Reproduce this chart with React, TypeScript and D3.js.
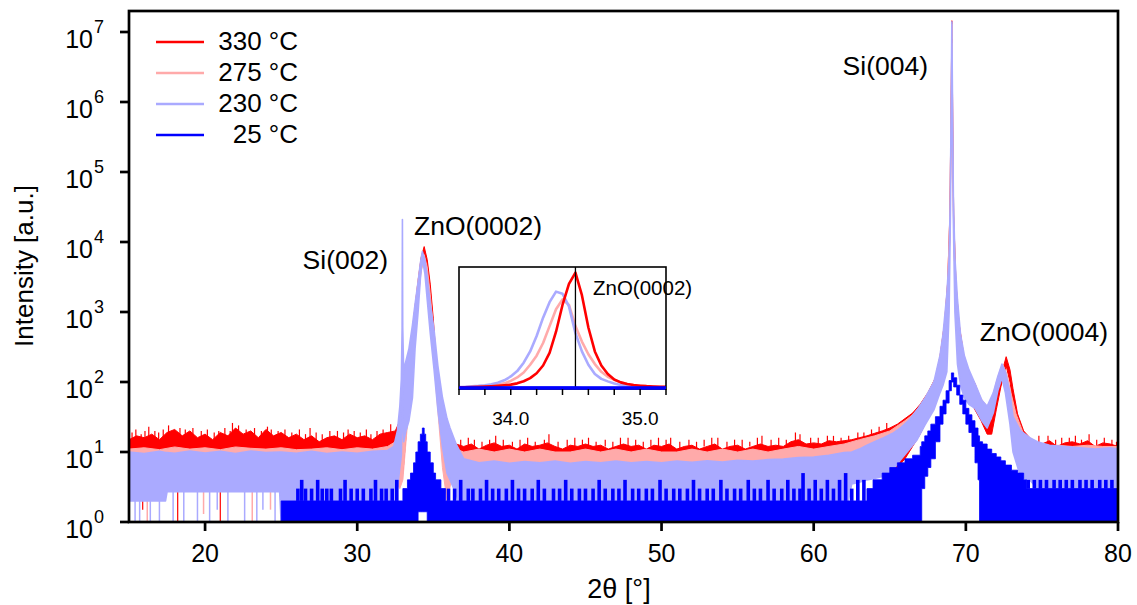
import React from "react";
import * as d3 from "d3";

type Pt = [number, number, number]; // [2theta, low envelope, high envelope]

// ---------- main plot data (counts, noise envelope) ----------
const S330: Pt[] = [
  [15.0, 8, 15], [15.5, 9, 17], [16.0, 8, 16], [16.5, 9, 18], [17.0, 8, 15], [17.5, 9, 19], [18.0, 10, 21], [18.5, 9, 17],
  [19.0, 9, 20], [19.5, 8, 16], [20.0, 9, 18], [20.5, 8, 15], [21.0, 9, 19], [21.5, 9, 17], [22.0, 10, 22], [22.5, 9, 18],
  [23.0, 9, 20], [23.5, 8, 16], [24.0, 9, 21], [24.5, 9, 17], [25.0, 9, 19], [25.5, 8, 16], [26.0, 9, 18], [26.5, 8, 15],
  [27.0, 9, 17], [27.5, 8, 14], [28.0, 8, 16], [28.5, 9, 17], [29.0, 8, 15], [29.5, 9, 18], [30.0, 8, 16], [30.5, 9, 17],
  [31.0, 8, 15], [31.5, 9, 18], [32.0, 9, 19],
  [32.5, 6, 20], [32.8, 4, 28], [33.0, 5, 50], [33.3, 30, 150], [33.6, 150, 500], [33.8, 500, 1200], [34.0, 1500, 2800],
  [34.2, 4200, 6000], [34.4, 7000, 8600], [34.6, 4000, 5600], [34.8, 1500, 2500], [35.0, 450, 800], [35.16, 140, 260],
  [35.37, 35, 65], [35.6, 10, 28], [35.9, 3, 17], [36.2, 5, 14], [36.5, 7, 13],
  [37.0, 6, 12], [37.5, 7, 13], [38.0, 6, 11], [38.5, 6, 12.5], [39.0, 7, 13.5], [39.5, 6, 12], [40.0, 6, 12.5], [40.5, 6, 11],
  [41.0, 7, 13], [41.5, 6, 12], [42.0, 6, 12.5], [42.5, 7, 13.5], [43.0, 6, 12], [43.5, 6, 11], [44.0, 6, 12.5], [44.5, 6, 12],
  [45.0, 7, 13], [45.5, 6, 12], [46.0, 6, 12.5], [46.5, 6, 11], [47.0, 6, 12], [47.5, 7, 13], [48.0, 6, 12], [48.5, 6, 12.5],
  [49.0, 6, 11], [49.5, 6, 12.5], [50.0, 6, 12], [50.5, 7, 13], [51.0, 6, 11], [51.5, 6, 12], [52.0, 6, 12.5], [52.5, 6, 11],
  [53.0, 6, 12], [53.5, 7, 13], [54.0, 6, 11], [54.5, 6, 12], [55.0, 6, 12.5], [55.5, 6, 11], [56.0, 6, 12], [56.5, 7, 13],
  [57.0, 6, 12], [57.5, 6, 12.5], [58.0, 6, 12], [58.5, 7, 14], [59.0, 7, 15], [59.5, 6, 13], [60.0, 7, 13.5], [60.5, 6, 13],
  [61.0, 7, 14.5], [61.5, 7, 14], [62.0, 7, 14.5], [62.5, 8, 15], [63.0, 8, 16], [63.5, 9, 17], [64.0, 9, 18.5], [64.5, 10, 20],
  [65.0, 5, 22], [65.5, 6, 25], [66.0, 8, 30], [66.5, 12, 36], [67.0, 18, 48], [67.5, 30, 70], [68.0, 55, 115],
  [68.3, 110, 230], [68.6, 300, 700], [68.8, 1200, 2600], [68.95, 12000, 25000], [69.03, 300000, 1000000],
  [69.08, 8000000, 14500000], [69.13, 300000, 1000000], [69.2, 12000, 25000], [69.35, 1200, 2600], [69.55, 300, 700],
  [69.85, 110, 250], [70.2, 60, 140], [70.6, 40, 95], [71.0, 28, 55], [71.4, 18, 35], [71.7, 18, 28], [72.0, 40, 60],
  [72.3, 85, 120], [72.65, 170, 230], [72.9, 100, 150], [73.1, 50, 80], [73.4, 22, 35], [73.8, 10, 20], [74.2, 7, 16],
  [74.5, 7, 14], [75.0, 6, 13], [75.5, 7, 14.5], [76.0, 6, 12], [76.5, 6, 13.5], [77.0, 7, 14], [77.5, 6, 13], [78.0, 7, 14.5],
  [78.5, 6, 12], [79.0, 6, 13.5], [79.5, 6, 13], [80.0, 6, 12],
];

const S275: Pt[] = [
  [15, 6, 11], [16, 6, 11.5], [17, 6, 10.8], [18, 6, 11.8], [19, 6, 11], [20, 6, 11.5], [21, 6, 10.8], [22, 6, 11.8],
  [23, 6, 11.3], [24, 6, 11], [25, 6, 11.5], [26, 6, 10.8], [27, 6, 11], [28, 6, 11.5], [29, 6, 10.8], [30, 6, 11.5],
  [31, 6, 11], [32, 6, 12],
  [32.5, 4, 14], [32.8, 3, 22], [33.0, 4, 40], [33.3, 25, 130], [33.6, 130, 450], [33.8, 450, 1200], [34.0, 1400, 2900],
  [34.2, 3800, 5600], [34.4, 5600, 6600], [34.6, 3000, 4400], [34.8, 1000, 1800], [35.0, 300, 600], [35.16, 90, 180],
  [35.37, 25, 50], [35.6, 6, 22], [35.9, 2, 14], [36.2, 4, 12], [36.5, 6, 11],
  [37, 5, 10], [38, 5, 11], [39, 5, 10], [40, 5, 11], [41, 5, 10], [42, 5, 11], [43, 5, 10], [44, 5, 10], [45, 5, 11],
  [46, 5, 10], [47, 5, 11], [48, 5, 10], [49, 5, 11], [50, 5, 10], [51, 5, 10], [52, 5, 11], [53, 5, 10], [54, 5, 11],
  [55, 5, 10], [56, 5, 11], [57, 5, 10], [58, 5, 11], [59, 5, 12], [60, 6, 11], [61, 6, 12], [62, 6, 13],
  [63.0, 7, 15], [64.0, 8, 17], [65.0, 8, 20], [66.0, 10, 28], [66.5, 13, 34], [67.0, 18, 46], [67.5, 30, 70],
  [68.0, 55, 115], [68.3, 110, 230], [68.6, 300, 680], [68.8, 1200, 2500], [68.95, 12000, 24000],
  [69.03, 300000, 1000000], [69.08, 7000000, 13000000], [69.13, 300000, 1000000], [69.2, 12000, 24000],
  [69.35, 1200, 2500], [69.55, 300, 680], [69.85, 110, 240], [70.2, 60, 140], [70.6, 45, 95], [71.0, 32, 58],
  [71.4, 28, 45], [71.7, 35, 55], [72.0, 65, 100], [72.3, 110, 160], [72.45, 130, 175], [72.7, 90, 130], [73.0, 40, 65],
  [73.3, 20, 35], [73.8, 9, 18], [74.5, 6, 13], [75, 6, 12], [76, 6, 12.5], [77, 6, 12], [78, 6, 12.5], [79, 6, 12], [80, 6, 12],
];

const S230: Pt[] = [
  [15, 2, 10], [16, 2, 9.5], [17, 2, 10.2], [17.4, 2, 9.8], [17.5, 2.7, 9.8], [18, 2.7, 9.6], [19, 2.7, 10.3], [20, 2.7, 9.7],
  [21, 2.7, 10.2], [22, 2.7, 9.5], [23, 2.7, 10.3], [24, 2.7, 9.8], [24.9, 2.7, 10], [25, 1, 10], [26, 1, 9.6],
  [27, 1, 10.2], [28, 1, 9.5], [29, 1, 10], [30, 1, 9.6], [31, 1, 10.2], [32.0, 1, 10.5],
  [32.4, 1.5, 12], [32.64, 3, 20], [32.8, 6, 45], [32.9, 9, 110], [32.95, 40, 600], [32.97, 5000, 21000],
  [32.99, 40, 600], [33.05, 14, 150], [33.2, 20, 200], [33.4, 28, 300], [33.63, 60, 650], [33.8, 300, 1300],
  [34.0, 1000, 2700], [34.15, 3000, 5000], [34.28, 5800, 7300], [34.45, 3500, 5500], [34.6, 1500, 3100],
  [34.8, 500, 1300], [35.05, 150, 550], [35.3, 40, 170], [35.6, 12, 60], [35.9, 5, 30], [36.1, 4, 22], [36.5, 2.5, 13],
  [37, 1, 8], [38, 1, 7], [39, 1, 7.4], [40, 1, 6.9], [41, 1, 7.3], [42, 1, 7], [43, 1, 7.4], [44, 1, 6.9], [45, 1, 7.3],
  [46, 1, 7], [47, 1, 7.4], [48, 1, 7], [49, 1, 7.3], [50, 1, 7], [51, 1, 7.4], [52, 1, 7.1], [53, 1, 7.5], [54, 1, 7.2],
  [55, 1, 7.6], [56, 1, 7.4], [57, 1, 7.8], [58, 1, 7.9], [59, 1, 8.3], [60, 1, 8.5], [61, 1, 9], [62, 1, 9.8],
  [62.5, 3.5, 10], [63.0, 3.7, 11], [63.5, 4, 12.5], [64.0, 4.2, 14], [64.6, 4.5, 16], [65.2, 5.5, 18.5], [65.7, 7.7, 22],
  [66.3, 11, 29], [66.8, 15, 40], [67.3, 24, 58], [67.9, 40, 100], [68.3, 70, 240], [68.5, 90, 480], [68.75, 140, 1800],
  [68.9, 1000, 6000], [68.98, 20000, 45000], [69.04, 500000, 1200000], [69.08, 9000000, 14000000],
  [69.12, 500000, 1200000], [69.18, 20000, 45000], [69.28, 1000, 6000], [69.45, 180, 1500], [69.65, 90, 480],
  [69.9, 60, 240], [70.2, 48, 150], [70.6, 42, 95], [71.05, 28, 55], [71.4, 22, 45], [71.8, 36, 70], [72.1, 75, 120],
  [72.37, 115, 180], [72.6, 70, 140], [72.9, 25, 70], [73.1, 10, 32], [73.6, 4.4, 20], [74.2, 4, 16], [74.7, 3, 14],
  [75.5, 3, 12.5], [76.5, 3, 12], [77.5, 3, 11.5], [78.5, 3, 11], [79.5, 3, 11.5], [80, 3, 11],
];

const S25: Pt[] = [
  [25.0, 1, 2], [33.0, 1, 2], [33.0, 1, 3], [33.3, 1, 4], [33.5, 1, 5], [33.7, 1, 7], [33.85, 1, 10], [34.0, 1.4, 14],
  [34.15, 1.4, 18], [34.28, 1.4, 22], [34.4, 1.4, 18], [34.5, 1.4, 14], [34.6, 1, 10], [34.8, 1, 7], [35.0, 1, 5],
  [35.15, 1, 4], [35.5, 1, 3], [35.8, 1, 2], [63.5, 1, 3], [63.9, 1, 4], [64.5, 1, 5], [65.0, 1, 6], [65.5, 1, 7],
  [66.0, 1, 8], [66.5, 1, 9], [67.0, 1, 12], [67.1, 3, 14], [67.3, 4.5, 17], [67.5, 6, 20], [67.7, 8, 25], [68.0, 14, 32],
  [68.3, 25, 45], [68.5, 35, 55], [68.7, 50, 75], [68.9, 75, 105], [69.05, 100, 135], [69.2, 85, 115], [69.4, 65, 90],
  [69.6, 48, 65], [69.8, 35, 55], [70.0, 25, 42], [70.2, 19, 34], [70.4, 12, 28], [70.6, 7, 22], [70.8, 4, 17],
  [70.9, 1, 14], [71.1, 1, 13], [71.4, 1, 11], [71.7, 1, 9.5], [72.0, 1, 8.5], [72.3, 1, 7.5], [72.6, 1, 6.5],
  [73.0, 1, 5.5], [73.4, 1, 5], [73.8, 1, 4], [74.0, 1, 3], [80.0, 1, 3],
];

// single noise spikes [2theta, from, to]
const SPIKES_330: Pt[] = [
  [15.2, 14, 19], [15.45, 15, 21], [15.8, 15, 18], [16.05, 15, 20], [16.3, 15, 23], [16.7, 15, 20], [16.95, 14, 19],
  [17.25, 15, 21], [17.6, 16, 24], [17.85, 16, 20], [18.35, 16, 22], [18.7, 15, 21], [19.05, 16, 19], [19.2, 16, 22],
  [19.75, 15, 20], [20.15, 15, 21], [20.6, 14, 19], [20.9, 15, 20], [21.3, 15, 22], [21.65, 15, 20], [21.8, 17, 26],
  [22.2, 18, 24], [22.7, 16, 21], [23.25, 16, 22], [23.7, 15, 20], [24.1, 17, 23], [24.35, 16, 21], [24.8, 15, 20],
  [25.25, 15, 21], [25.7, 15, 19], [26.2, 15, 21], [26.6, 14, 18], [26.9, 15, 22], [27.3, 14, 19], [27.7, 14, 18],
  [28.2, 14, 20], [28.7, 15, 20], [29.1, 14, 19], [29.4, 15, 21], [29.8, 15, 20], [30.2, 15, 19], [30.6, 15, 21],
  [30.9, 14, 18], [31.3, 15, 20], [31.7, 15, 21], [32.2, 17, 25],
  [36.8, 11, 15], [37.3, 12, 16], [37.7, 12, 15], [38.2, 11, 14], [38.7, 12, 15], [39.1, 13, 17], [39.6, 11, 15],
  [40.2, 12, 14], [40.7, 11, 15], [41.2, 12, 16], [41.7, 12, 14], [42.3, 12, 15], [42.6, 13, 18], [43.2, 11, 14],
  [43.8, 12, 15], [44.3, 12, 16], [44.8, 12, 15], [45.2, 12, 16], [45.7, 12, 14], [46.3, 12, 15], [46.8, 11, 14],
  [47.3, 12, 16], [47.8, 12, 16], [48.3, 12, 15], [48.8, 11, 14], [49.3, 12, 15], [49.8, 12, 16], [50.3, 12, 15],
  [50.6, 12, 16], [51.2, 11, 14], [51.8, 12, 15], [52.3, 11, 14], [52.8, 12, 15], [53.3, 12, 16], [53.7, 12, 16],
  [54.3, 11, 14], [54.8, 12, 15], [55.3, 11, 15], [55.8, 12, 14], [56.3, 12, 16], [56.6, 12, 17], [57.2, 12, 15],
  [57.7, 12, 16], [58.2, 12, 15], [58.8, 13, 19], [59.1, 14, 18], [59.8, 12, 16], [60.3, 13, 16], [60.9, 13, 17],
  [61.3, 13, 17], [61.8, 13, 16], [62.3, 14, 17], [62.9, 15, 19], [63.3, 15, 19], [63.8, 16, 21], [64.3, 18, 23],
  [64.8, 20, 26],
  [74.8, 13, 17], [75.4, 13, 17], [75.9, 12, 15], [76.3, 12, 16], [76.8, 13, 16], [77.2, 13, 17], [77.6, 12, 15],
  [78.1, 13, 18], [78.6, 12, 15], [79.1, 12, 16], [79.6, 12, 15], [79.9, 11, 14],
  [18.2, 8, 1], [21.0, 8, 1], [15.9, 8, 1.5],
];
const SPIKES_275: Pt[] = [[16.2, 6, 1], [19.9, 6, 1.3], [23.1, 6, 1], [24.3, 6, 1.5]];
const SPIKES_230: Pt[] = [
  [15.4, 2, 1], [15.7, 2, 1], [16.4, 2, 1], [17.0, 2, 1], [17.9, 2.7, 1], [18.6, 2.7, 1], [19.5, 2.7, 1],
  [20.3, 2.7, 1], [20.8, 2.7, 1.5], [21.5, 2.7, 1], [22.6, 2.7, 1], [23.4, 2.7, 1], [23.8, 2.7, 1.5], [24.6, 2.7, 1],
];
const SPIKES_25: Pt[] = [
  [26.1, 2, 3], [26.35, 2, 4], [26.6, 2, 3], [27.0, 2, 3], [27.4, 2, 4], [27.7, 2, 3], [28.0, 2, 3], [28.3, 2, 3],
  [28.9, 2, 3], [29.2, 2, 4], [29.6, 2, 3], [30.0, 2, 3], [30.4, 2, 3], [30.9, 2, 3], [31.2, 2, 4], [31.6, 2, 3],
  [31.9, 2, 3], [32.3, 2, 3], [32.6, 2, 4],
  [36.0, 2, 3], [36.4, 2, 3], [36.8, 2, 4], [37.3, 2, 3], [37.6, 2, 3], [38.1, 2, 3], [38.5, 2, 4], [38.9, 2, 3],
  [39.3, 2, 3], [39.8, 2, 3], [40.2, 2, 4], [40.6, 2, 3], [41.0, 2, 3], [41.5, 2, 3], [41.9, 2, 4], [42.3, 2, 3],
  [42.9, 2, 3], [43.3, 2, 3], [43.7, 2, 4], [44.1, 2, 3], [44.6, 2, 3], [45.0, 2, 3], [45.5, 2, 3], [45.9, 2, 4],
  [46.3, 2, 3], [46.8, 2, 3], [47.2, 2, 3], [47.6, 2, 4], [48.1, 2, 3], [48.5, 2, 3], [49.0, 2, 3], [49.4, 2, 3],
  [49.9, 2, 4], [50.3, 2, 3], [50.8, 2, 3], [51.2, 2, 3], [51.7, 2, 3], [52.1, 2, 4], [52.5, 2, 3], [53.0, 2, 3],
  [53.4, 2, 3], [53.9, 2, 4], [54.3, 2, 3], [54.8, 2, 3], [55.2, 2, 3], [55.7, 2, 4], [56.1, 2, 3], [56.5, 2, 3],
  [57.0, 2, 4], [57.4, 2, 3], [57.9, 2, 3], [58.3, 2, 4], [58.7, 2, 3], [59.1, 2, 3], [59.3, 2, 5], [59.7, 2, 3],
  [60.1, 2, 4], [60.5, 2, 3], [60.9, 2, 4], [61.3, 2, 3], [61.7, 2, 4], [62.1, 2, 5], [62.5, 2, 3], [62.9, 2, 4],
  [63.3, 2, 4],
  [74.1, 3, 4], [74.5, 3, 4], [74.9, 3, 4], [75.3, 3, 4], [75.8, 3, 4], [76.2, 3, 4], [76.6, 3, 4], [77.0, 3, 4],
  [77.5, 3, 4], [77.9, 3, 4], [78.3, 3, 4], [78.8, 3, 4], [79.2, 3, 4], [79.6, 3, 4],
];

// ---------- inset data (linear intensity) ----------
const INSET_X = [
  33.6, 33.65, 33.7, 33.75, 33.8, 33.85, 33.9, 33.95, 34.0, 34.05, 34.1, 34.15, 34.2, 34.25, 34.3, 34.35, 34.4,
  34.45, 34.5, 34.55, 34.6, 34.65, 34.7, 34.75, 34.8, 34.85, 34.9, 34.95, 35.0, 35.05, 35.1, 35.15, 35.2,
];
const INSET_330 = [50, 55, 65, 80, 100, 120, 150, 190, 240, 330, 480, 700, 1050, 1600, 2500, 4000, 5900, 7400, 8200, 6600, 4300, 2600, 1600, 1000, 600, 400, 290, 210, 165, 130, 110, 90, 80];
const INSET_275 = [55, 65, 80, 100, 130, 170, 230, 330, 500, 750, 1100, 1650, 2300, 3200, 4400, 5600, 6300, 5900, 4400, 3300, 2400, 1700, 1150, 800, 580, 400, 280, 200, 150, 120, 95, 80, 70];
const INSET_230 = [70, 85, 115, 150, 200, 270, 380, 550, 820, 1200, 1800, 2600, 3700, 5000, 6100, 6850, 6700, 5800, 3900, 2600, 1650, 1000, 650, 470, 320, 220, 165, 130, 100, 80, 65, 55, 50];
const INSET_25 = [2, 2, 3, 3, 3, 4, 5, 7, 10, 14, 18, 21, 22, 22, 20, 17, 13, 9, 6, 5, 4, 3, 3, 2, 2, 2, 2, 2, 2, 2, 2, 2, 2];
const INSET_MARK = 34.5;
const INSET_TICKS = [33.6, 33.8, 34.0, 34.2, 34.4, 34.6, 34.8, 35.0, 35.2];
const INSET_LABELS = [34.0, 35.0];

// ---------- axes / labels ----------
const X_TICKS = [20, 30, 40, 50, 60, 70, 80];
const Y_EXPONENTS = [0, 1, 2, 3, 4, 5, 6, 7];
const LEGEND = ["330 °C", "275 °C", "230 °C", "25 °C"];
const COLORS = ["#ff0000", "#ffaaaa", "#aaaaff", "#0000ff"];

const FONT = "'Liberation Sans', Arial, Helvetica, sans-serif";

export default function App() {
  const x = d3.scaleLinear().domain([15, 80]).range([129, 1118]);
  const y = d3.scaleLog().domain([1, Math.pow(10, 7.3)]).range([522, 11]);

  const mkArea = (curve: d3.CurveFactory) =>
    d3.area<Pt>().x((d) => x(d[0])).y0((d) => y(d[1])).y1((d) => y(d[2])).curve(curve);
  const areaLin = mkArea(d3.curveLinear);
  const areaStep = mkArea(d3.curveStepAfter);

  const xi = d3.scaleLinear().domain([33.6, 35.2]).range([459, 666]);
  const yi = d3.scaleLinear().domain([0, 8600]).range([388, 267]);
  const inLine = d3.line<number>().x((_, i) => xi(INSET_X[i])).y((d) => yi(d));

  const mainSeries = [
    { data: S330, spikes: SPIKES_330, color: COLORS[0], sw: 1, step: false, spw: 1.2 },
    { data: S275, spikes: SPIKES_275, color: COLORS[1], sw: 1, step: false, spw: 1.5 },
    { data: S230, spikes: SPIKES_230, color: COLORS[2], sw: 1.6, step: false, spw: 1.5 },
    { data: S25, spikes: SPIKES_25, color: COLORS[3], sw: 0.8, step: true, spw: 3.6 },
  ];
  const insetSeries = [
    { v: INSET_275, c: COLORS[1] },
    { v: INSET_230, c: COLORS[2] },
    { v: INSET_330, c: COLORS[0] },
    { v: INSET_25, c: COLORS[3] },
  ];

  return (
    <svg
      width={1137}
      height={605}
      style={{ position: "absolute", left: 0, top: 0, background: "#fff" }}
      fontFamily={FONT}
    >
      <defs>
        <clipPath id="plotClip">
          <rect x={129} y={11} width={989} height={511} />
        </clipPath>
        <clipPath id="insetClip">
          <rect x={459} y={267} width={207} height={122} />
        </clipPath>
      </defs>

      {/* data */}
      <g clipPath="url(#plotClip)">
        {mainSeries.map((s, i) => (
          <g key={i}>
            <path
              d={(s.step ? areaStep : areaLin)(s.data) || ""}
              fill={s.color}
              stroke={s.color}
              strokeWidth={s.sw}
              strokeLinejoin="round"
            />
            {s.spikes.map((p, j) => (
              <line key={j} x1={x(p[0])} x2={x(p[0])} y1={y(p[1])} y2={y(p[2])} stroke={s.color} strokeWidth={s.spw} />
            ))}
          </g>
        ))}
      </g>

      {/* frame */}
      <rect x={129} y={11} width={989} height={511} fill="none" stroke="#000" strokeWidth={2.7} />

      {/* y axis */}
      {Y_EXPONENTS.map((e) => {
        const ty = y(Math.pow(10, e));
        return (
          <g key={e}>
            <line x1={120} x2={129} y1={ty} y2={ty} stroke="#000" strokeWidth={2.7} />
            <text x={93} y={ty + 16} textAnchor="end" fontSize={25}>10</text>
            <text x={94} y={ty + 1} fontSize={18}>{e}</text>
          </g>
        );
      })}
      {/* x axis */}
      {X_TICKS.map((t) => (
        <g key={t}>
          <line x1={x(t)} x2={x(t)} y1={522} y2={531} stroke="#000" strokeWidth={2.7} />
          <text x={x(t)} y={562} textAnchor="middle" fontSize={25}>{t}</text>
        </g>
      ))}
      <text x={619} y={598} textAnchor="middle" fontSize={27}>2θ [°]</text>
      <text transform="translate(33,266) rotate(-90)" textAnchor="middle" fontSize={26}>Intensity [a.u.]</text>

      {/* annotations */}
      <text x={388} y={269} textAnchor="end" fontSize={26.5}>Si(002)</text>
      <text x={414} y={235} fontSize={26.5}>ZnO(0002)</text>
      <text x={928} y={75} textAnchor="end" fontSize={26.5}>Si(004)</text>
      <text x={1108} y={341} textAnchor="end" fontSize={26.5}>ZnO(0004)</text>

      {/* legend */}
      {LEGEND.map((l, i) => {
        const ly = 42 + i * 31;
        return (
          <g key={l}>
            <line x1={156} x2={204} y1={ly} y2={ly} stroke={COLORS[i]} strokeWidth={2.5} />
            <text x={298} y={ly + 8} textAnchor="end" fontSize={26}>{l}</text>
          </g>
        );
      })}

      {/* inset */}
      <rect x={459} y={267} width={207} height={122} fill="#fff" stroke="none" />
      <g clipPath="url(#insetClip)">
        {insetSeries.map((s, i) => (
          <path key={i} d={inLine(s.v) || ""} fill="none" stroke={s.c} strokeWidth={2.6} strokeLinejoin="round" />
        ))}
      </g>
      <line x1={xi(INSET_MARK)} x2={xi(INSET_MARK)} y1={267} y2={389} stroke="#000" strokeWidth={1.3} />
      <rect x={459} y={267} width={207} height={122} fill="none" stroke="#000" strokeWidth={1.6} />
      <line x1={459} x2={666} y1={388} y2={388} stroke={COLORS[3]} strokeWidth={3.5} />
      {INSET_TICKS.map((t) => (
        <line key={t} x1={xi(t)} x2={xi(t)} y1={389} y2={395} stroke="#000" strokeWidth={1.5} />
      ))}
      {INSET_LABELS.map((t) => (
        <text key={t} x={xi(t)} y={425} textAnchor="middle" fontSize={19}>{t.toFixed(1)}</text>
      ))}
      <text x={593} y={295} fontSize={20.5}>ZnO(0002)</text>
    </svg>
  );
}
